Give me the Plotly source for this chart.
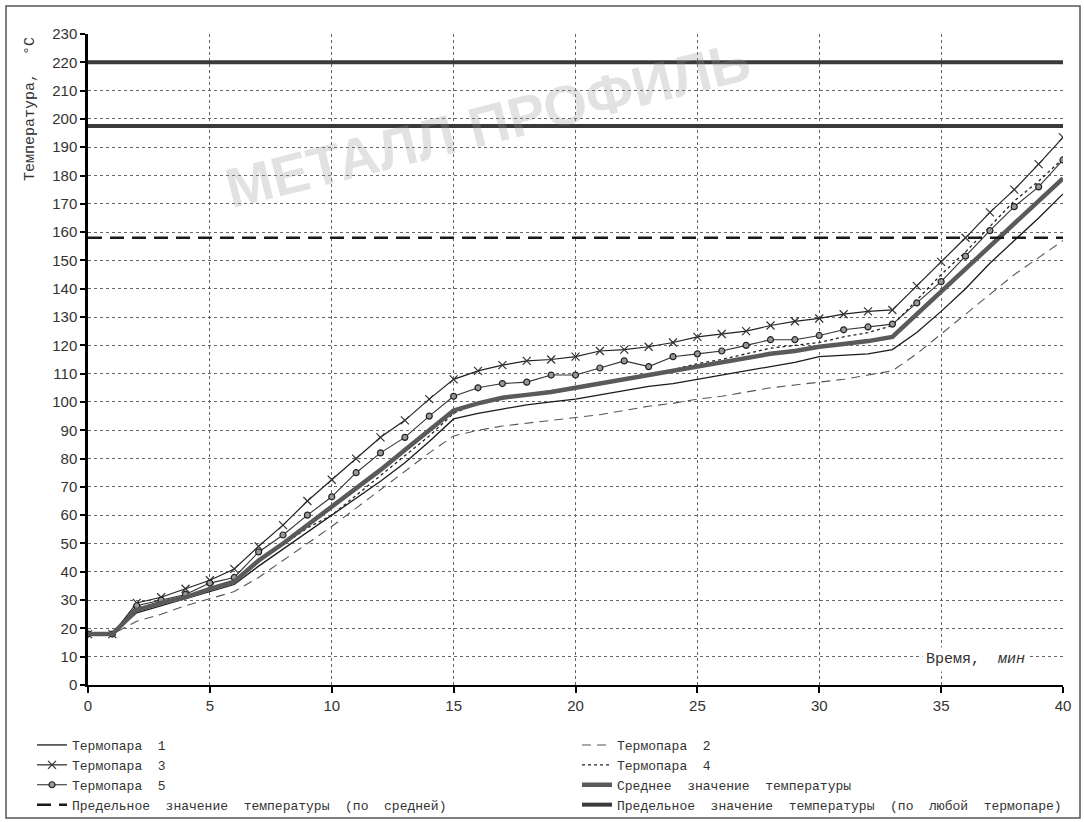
import plotly.graph_objects as go

minutes = list(range(0, 41))

t1 = [17.5, 18, 25.5, 28, 30.5, 33, 35.5, 42, 48, 54, 60, 66, 72, 78.5, 86, 94, 96, 97.5, 99, 100,
      101, 102.5, 104, 105.5, 106.5, 108, 109.5, 111, 112.5, 114, 116, 116.5, 117, 118.5, 124.5,
      132, 140, 149, 157, 165, 173.5]
t2 = [17.5, 18, 22.5, 25, 28, 30.5, 33, 38, 44, 50, 56, 62.5, 69, 75.5, 82, 88, 90, 91.5, 92.5, 93.5,
      94.5, 95.5, 97, 98.5, 99.5, 101, 102, 103.5, 105, 106, 107, 108, 109.5, 111, 117,
      124, 131, 138, 145, 151, 157]
t3 = [18, 18, 29, 31, 34, 37, 41, 49, 56.5, 65, 72.5, 80, 87.5, 93.5, 101, 108, 111, 113, 114.5, 115,
      116, 118, 118.5, 119.5, 121, 123, 124, 125, 127, 128.5, 129.5, 131, 132, 132.5, 141,
      149.5, 158, 167, 175, 184, 193.5]
t4 = [18, 18, 26, 29, 31, 34, 36, 44, 49.5, 55.5, 60, 67, 74, 81, 88, 96, 99.5, 101.5, 102.5, 104,
      105, 106.5, 108, 110, 111.5, 113.5, 115, 117, 119, 120, 121, 123, 124.5, 127, 136,
      145, 153, 162, 171, 178, 186]
t5 = [18, 18, 28, 30, 32, 36, 38, 47, 53, 60, 66.5, 75, 82, 87.5, 95, 102, 105, 106.5, 107, 109.5,
      109.5, 112, 114.5, 112.5, 116, 117, 118, 120, 122, 122, 123.5, 125.5, 126.5, 127.5, 135,
      142.5, 151.5, 160.5, 169, 176, 185.5]
avg = [18, 18, 26.5, 29, 31, 34, 36.5, 44, 50, 56.5, 63, 69.5, 76, 83, 90, 97, 99.5, 101.5, 102.5, 103.5,
       105, 106.5, 108, 109.5, 111, 112.5, 114, 115.5, 117, 118, 119.5, 120.5, 121.5, 123, 131,
       139, 147, 155, 163, 171, 179]

limit_span = [0, 40]
limit_avg = 158
limit_any = 220
limit_any_2 = 197.5

names = ["Термопара  1", "Термопара  2", "Термопара  3", "Термопара  4", "Термопара  5",
         "Среднее  значение  температуры",
         "Предельное  значение  температуры  (по  средней)",
         "Предельное  значение  температуры  (по  любой  термопаре)"]

fig = go.Figure()

fig.add_trace(go.Scatter(x=minutes, y=t1, mode="lines", name=names[0], legend="legend", legendrank=1,
                         line=dict(color="#1a1a1a", width=1.3)))
fig.add_trace(go.Scatter(x=minutes, y=t2, mode="lines", name=names[1], legend="legend2", legendrank=1,
                         line=dict(color="#555555", width=1.1, dash="9px,6px")))
fig.add_trace(go.Scatter(x=minutes, y=t3, mode="lines+markers", name=names[2], legend="legend", legendrank=2,
                         line=dict(color="#222222", width=1.2),
                         marker=dict(symbol="x-thin", size=8, line=dict(color="#333333", width=1.2))))
fig.add_trace(go.Scatter(x=minutes, y=t4, mode="lines", name=names[3], legend="legend2", legendrank=2,
                         line=dict(color="#222222", width=1.3, dash="dot")))
fig.add_trace(go.Scatter(x=minutes, y=t5, mode="lines+markers", name=names[4], legend="legend", legendrank=3,
                         line=dict(color="#333333", width=1.1),
                         marker=dict(symbol="circle", size=6, color="#999999",
                                     line=dict(color="#222222", width=1.2))))
fig.add_trace(go.Scatter(x=minutes, y=avg, mode="lines", name=names[5], legend="legend2", legendrank=3,
                         line=dict(color="#5a5a5a", width=4.5)))
fig.add_trace(go.Scatter(x=limit_span, y=[limit_avg, limit_avg], mode="lines", name=names[6],
                         legend="legend", legendrank=4,
                         line=dict(color="#1a1a1a", width=2.5, dash="14px,8px")))
fig.add_trace(go.Scatter(x=limit_span, y=[limit_any, limit_any], mode="lines", name=names[7],
                         legend="legend2", legendrank=4,
                         line=dict(color="#3a3a3a", width=4)))
fig.add_trace(go.Scatter(x=limit_span, y=[limit_any_2, limit_any_2], mode="lines", showlegend=False,
                         line=dict(color="#3a3a3a", width=4)))

W, H = 1084, 822
L, R, T, B = 88, 21, 34, 137
pw, ph = W - L - R, H - T - B


def px(xp):
    return (xp - L) / pw


def py(yp):
    return (H - B - yp) / ph


legend_font = dict(family="Liberation Mono", size=13, color="#333333")
common_legend = dict(orientation="v", xref="paper", yref="container", xanchor="left", yanchor="top",
                     font=legend_font, bgcolor="rgba(0,0,0,0)", itemwidth=30, tracegroupgap=0,
                     traceorder="normal")

fig.update_layout(
    width=W, height=H,
    margin=dict(l=L, r=R, t=T, b=B),
    paper_bgcolor="white", plot_bgcolor="white",
    showlegend=True,
    legend=dict(x=px(32), y=1 - 730 / H, **common_legend),
    legend2=dict(x=px(577), y=1 - 730 / H, **common_legend),
    xaxis=dict(range=[0, 40], tickvals=[0, 5, 10, 15, 20, 25, 30, 35, 40],
               showgrid=True, gridcolor="#666666", griddash="dot", gridwidth=1,
               showline=True, linecolor="black", linewidth=2,
               ticks="outside", ticklen=6, tickcolor="black", tickwidth=1.5,
               tickfont=dict(family="Liberation Sans", size=15, color="#333333"),
               zeroline=False),
    yaxis=dict(range=[0, 230], tickvals=list(range(0, 231, 10)),
               showgrid=True, gridcolor="#666666", griddash="dot", gridwidth=1,
               showline=True, linecolor="black", linewidth=2.5,
               ticks="outside", ticklen=5, tickcolor="black", tickwidth=1.5,
               tickfont=dict(family="Liberation Sans", size=15, color="#333333"),
               zeroline=False),
)

# watermark
fig.add_annotation(text="<b>МЕТАЛЛ ПРОФИЛЬ</b>", xref="paper", yref="paper",
                   x=px(488), y=py(125), xanchor="center", yanchor="middle", showarrow=False,
                   textangle=-14,
                   font=dict(family="Liberation Sans", size=56, color="rgba(150,150,150,0.28)"))

# y axis title
fig.add_annotation(text="Температура,  °С", xref="paper", yref="paper",
                   x=px(30), y=py(35), xanchor="center", yanchor="top", showarrow=False,
                   textangle=-90, font=dict(family="Liberation Mono", size=15, color="#333333"))

# x axis title
fig.add_annotation(text="Время,  <i>мин</i>", xref="paper", yref="paper",
                   x=px(975), y=py(659), xanchor="center", yanchor="middle", showarrow=False,
                   bgcolor="white", borderpad=3,
                   font=dict(family="Liberation Mono", size=15, color="#333333"))

# outer frame
fig.add_shape(type="rect", xref="paper", yref="paper",
              x0=px(6), x1=px(1080), y0=py(818), y1=py(6),
              line=dict(color="#555555", width=1.5), fillcolor="rgba(0,0,0,0)", layer="below")

fig.write_html("out.html")
